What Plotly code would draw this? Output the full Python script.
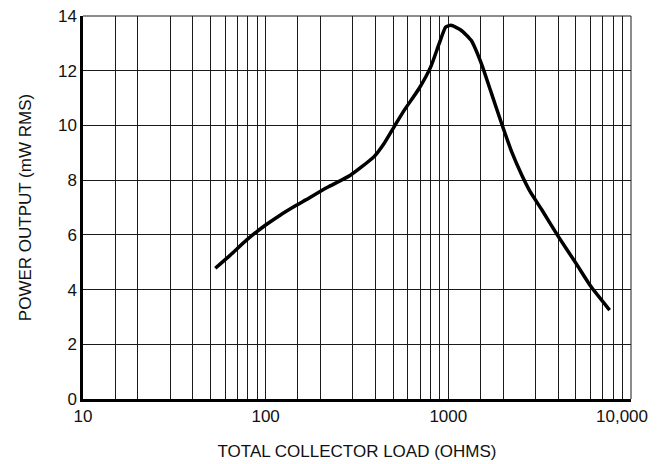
import plotly.graph_objects as go

# Data
load_ohms = [53, 64, 78.5, 100, 120, 148, 165, 217, 291, 391, 445, 505, 573, 692, 801,
             891, 968, 1034, 1175, 1334, 1517, 1723, 1958, 2224, 2527, 2812, 3263, 3957,
             5000, 6054, 7640]
power_mw = [4.78, 5.26, 5.81, 6.36, 6.72, 7.09, 7.27, 7.73, 8.18, 8.85, 9.34, 9.95, 10.55,
            11.35, 12.14, 12.99, 13.6, 13.66, 13.48, 13.11, 12.26, 11.17, 10.07, 9.03, 8.18,
            7.57, 6.90, 5.99, 4.96, 4.10, 3.25]

x_tick_vals = [10, 100, 1000, 10000]
x_tick_text = ["10", "100", "1000", "10,000"]
x_minor_mult = [1.5, 2, 3, 4, 5, 6, 7, 8, 9]
y_tick_vals = [0, 2, 4, 6, 8, 10, 12, 14]

x_minor_vals = [d * m for d in [10, 100, 1000] for m in x_minor_mult]

GRID = "#1a1a1a"
TICKFONT = dict(family="Liberation Sans, Arial", size=17, color="#111")
TITLEFONT = dict(family="Liberation Sans, Arial", size=17, color="#111")

fig = go.Figure()
fig.add_trace(go.Scatter(
    x=load_ohms, y=power_mw, mode="lines",
    line=dict(color="black", width=3.5, shape="spline", smoothing=0.5),
    showlegend=False, hoverinfo="skip"))

# the last x label sits pulled left of its gridline, as in the reference
axis_ticktext = x_tick_text[:-1] + [""]

fig.update_layout(
    width=660, height=464,
    margin=dict(l=75, r=37, t=8, b=73),
    paper_bgcolor="white", plot_bgcolor="white",
    xaxis=dict(
        type="log", range=[1, 4.0002], automargin=False,
        tickvals=x_tick_vals, ticktext=axis_ticktext, ticklabeloverflow="allow",
        showgrid=True, gridcolor=GRID, gridwidth=1,
        minor=dict(tickvals=x_minor_vals, showgrid=True, gridcolor=GRID, gridwidth=1, ticks=""),
        showline=True, linecolor="black", linewidth=2.5,
        ticks="", tickfont=TICKFONT, zeroline=False,
        title=dict(text="TOTAL COLLECTOR LOAD (OHMS)", font=TITLEFONT, standoff=20),
    ),
    yaxis=dict(
        range=[0, 14], tickvals=y_tick_vals, automargin=False,
        ticklabeloverflow="allow",
        showgrid=True, gridcolor=GRID, gridwidth=1,
        showline=True, linecolor="black", linewidth=2.5,
        ticks="", tickfont=TICKFONT, zeroline=False,
        title=dict(text="POWER OUTPUT (mW RMS)", font=TITLEFONT, standoff=22),
    ),
    shapes=[
        dict(type="line", xref="paper", yref="paper", x0=0, x1=1, y0=1, y1=1,
             line=dict(color=GRID, width=1)),
        dict(type="line", xref="paper", yref="paper", x0=1, x1=1, y0=0, y1=1,
             line=dict(color=GRID, width=1)),
    ],
    annotations=[
        dict(x=4, y=0, xref="x", yref="y", text=x_tick_text[-1], showarrow=False,
             xanchor="center", yanchor="top", xshift=-9, yshift=-6, font=TICKFONT),
    ],
)

fig.write_html("out.html")
